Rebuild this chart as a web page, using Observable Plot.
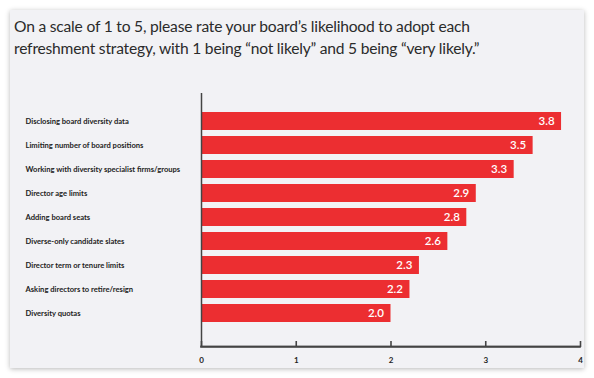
<!DOCTYPE html>
<html>
<head>
<meta charset="utf-8">
<script src="https://cdn.jsdelivr.net/npm/d3@7"></script>
<script src="https://cdn.jsdelivr.net/npm/@observablehq/plot@0.6"></script>
<style>
  html, body { margin: 0; padding: 0; background: #ffffff; width: 594px; height: 378px; overflow: hidden; }
  #card { position: absolute; left: 10px; top: 10px; width: 574px; height: 358px; background: #f2f2f5; box-shadow: 0 1px 5px rgba(0,0,0,0.28); }
  #title { position: absolute; left: 14px; top: 15px; font-family: Lato, "Open Sans", sans-serif; font-size: 15.6px; line-height: 22px; color: #2b2b2b; letter-spacing: -0.2px; white-space: nowrap; }
  #chart { position: absolute; left: 0; top: 0; }
</style>
</head>
<body>
<div id="card"></div>
<div id="title">On a scale of 1 to 5, please rate your board’s likelihood to adopt each<br>refreshment strategy, with 1 being “not likely” and 5 being “very likely.”</div>
<div id="chart"></div>
<script>
const strategies = [
  "Disclosing board diversity data",
  "Limiting number of board positions",
  "Working with diversity specialist firms/groups",
  "Director age limits",
  "Adding board seats",
  "Diverse-only candidate slates",
  "Director term or tenure limits",
  "Asking directors to retire/resign",
  "Diversity quotas"
];
const ratings = [3.8, 3.5, 3.3, 2.9, 2.8, 2.6, 2.3, 2.2, 2.0];
const xTicks = [0, 1, 2, 3, 4];
const xMax = 4;

const data = strategies.map((s, i) => ({strategy: s, rating: ratings[i]}));

const H = 378, MT = 93, MB = 31;
const FH = H - MT - MB;
const chart = Plot.plot({
  width: 594, height: H, marginLeft: 201, marginRight: 14, marginTop: MT, marginBottom: MB,
  style: {background: "transparent", fontFamily: "Lato, 'Open Sans', sans-serif", overflow: "visible"},
  x: {domain: [0, xMax]},
  y: {domain: strategies, range: [108.05, 326.75], paddingInner: 0.24, paddingOuter: 0.12, axis: null},
  marks: [
    Plot.barX(data, {x: "rating", y: "strategy", fill: "#ec2e31"}),
    Plot.text(data, {x: "rating", y: "strategy", text: d => d.rating.toFixed(1), textAnchor: "end", dx: -7, fill: "#ffffff", fontSize: 11.5, fontWeight: 600}),
    Plot.text(data, {y: "strategy", text: "strategy", frameAnchor: "left", textAnchor: "start", dx: -176, fill: "#222222", fontSize: 7.6, fontWeight: 700, letterSpacing: -0.1}),
    Plot.ruleX([0], {stroke: "#444444", strokeWidth: 1.5}),
    Plot.ruleX(xTicks, {x: d => d, insetTop: FH - 6, stroke: "#444444", strokeWidth: 1.6}),
    Plot.barX([xMax], {x: d => d, insetTop: FH - 1.4, insetBottom: -0.8, insetLeft: -0.8, insetRight: -0.8, fill: "#444444"}),
    Plot.axisX(xTicks, {anchor: "bottom", tickSize: 0, tickPadding: 10, tickFormat: d => String(d), fontSize: 8, fontWeight: 700, fill: "#222222", label: null})
  ]
});
document.getElementById("chart").appendChild(chart);
</script>
</body>
</html>
